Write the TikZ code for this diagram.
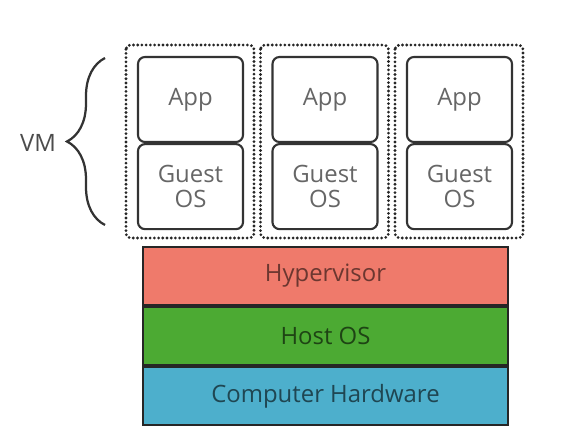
\documentclass[tikz,border=0pt]{standalone}
\usepackage{fontspec}
\setmainfont{Open Sans}
\usetikzlibrary{decorations.pathreplacing}

\definecolor{hypercol}{HTML}{EF7A6B}
\definecolor{hostcol}{HTML}{4CAA33}
\definecolor{hwcol}{HTML}{4DAFCC}

\tikzset{
  boxtext/.style={font=\fontsize{17}{20}\selectfont, align=center},
  appbox/.style={boxtext, draw=black!80, line width=1.5pt, rounded corners=5pt,
    minimum width=2.625cm, minimum height=2.125cm, text=black!60, inner sep=0pt},
  vmframe/.style={draw=black!85, line width=2.2pt, line cap=round, dash pattern=on 0pt off 3pt, rounded corners=3pt},
  layer/.style={boxtext, draw=black!85, line width=1.5pt,
    minimum width=9.125cm, minimum height=1.45cm, inner sep=0pt},
}

\begin{document}
\begin{tikzpicture}[x=0.025cm, y=-0.025cm]
  \useasboundingbox (0,0) rectangle (574,432);

  % --- cac may ao ---
  \foreach \i in {0,1,2}{
    \pgfmathsetmacro{\dx}{134.5*\i}
    \begin{scope}[xshift=\dx*0.025cm]
      % khung cham bao quanh
      \draw[vmframe] (126,45) rectangle (254,238);
      \node[appbox] (app\i) at (190.5,99.5) {App};
      \node[appbox, anchor=north] (guest\i) at (app\i.south) {Guest\\[-2pt]OS};
    \end{scope}
  }

  % --- dau ngoac va nhan VM ---
  \coordinate (bracebot) at (105,225);
  \coordinate (bracetop) at (105,58);
  \draw[line width=1.6pt, black!80, decorate, decoration={brace, amplitude=0.95cm}]
    (bracebot) -- (bracetop);
  \node[boxtext, text=black!70] (vmlabel) at (38,143) {VM};

  % --- cac tang ben duoi ---
  \node[layer, fill=hypercol, text=hypercol!45!black] (hyper) at (325.5,276) {Hypervisor};
  \node[layer, fill=hostcol, text=hostcol!40!black, anchor=north] (host) at (hyper.south) {Host OS};
  \node[layer, fill=hwcol, text=hwcol!40!black, anchor=north] (hw) at (host.south) {Computer Hardware};

\end{tikzpicture}
\end{document}
